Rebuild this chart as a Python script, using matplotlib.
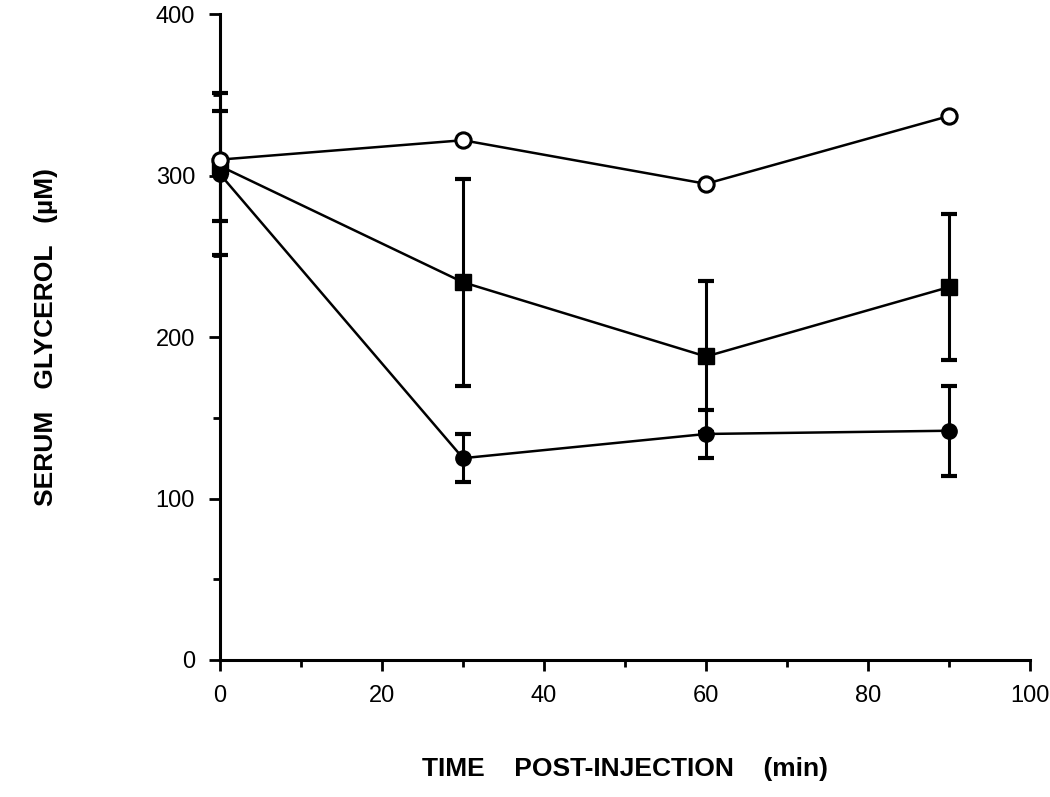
import matplotlib
matplotlib.use("Agg")
import matplotlib.pyplot as plt
import numpy as np

# minutes after injection
time_min = [0, 30, 60, 90]

# open circles (no error bars visible)
open_vals = [310, 322, 295, 337]

# filled squares
square_vals = [306, 234, 188, 231]
square_err = [34, 64, 47, 45]

# filled circles
filled_vals = [301, 125, 140, 142]
filled_err = [50, 15, 15, 28]

xticks = [0, 20, 40, 60, 80, 100]
yticks = [0, 100, 200, 300, 400]

plt.rcParams['font.family'] = ['Liberation Sans', 'DejaVu Sans']

fig = plt.figure(figsize=(10.5, 7.97), dpi=100)
ax = fig.add_axes([0.2095, 0.172, 0.7715, 0.81])

for vals, err, mk, ms in [(filled_vals, filled_err, 'o', 11),
                          (square_vals, square_err, 's', 12)]:
    _, caps, bars = ax.errorbar(time_min, vals, yerr=err, color='black', marker=mk,
                                markersize=ms, mfc='black', mec='black', lw=1.8,
                                elinewidth=2.2, capsize=6, capthick=3, zorder=3,
                                clip_on=False)
    for c in caps:
        c.set_clip_on(False)
    for b in bars:
        b.set_clip_on(False)
ax.plot(time_min, open_vals, color='black', marker='o', markersize=11,
        mfc='white', mec='black', mew=2.2, lw=1.8, zorder=4, clip_on=False)

ax.set_xlim(0, 100)
ax.set_ylim(0, 400)
ax.set_xticks(xticks)
ax.set_yticks(yticks)
ax.set_xticks(np.arange(10, 100, 20), minor=True)
ax.set_yticks(np.arange(50, 400, 100), minor=True)
ax.tick_params(axis='both', which='major', direction='out', length=8, width=2,
               labelsize=17, pad=10)
ax.tick_params(axis='both', which='minor', direction='out', length=5, width=2)

for s in ['top', 'right']:
    ax.spines[s].set_visible(False)
for s in ['left', 'bottom']:
    ax.spines[s].set_linewidth(2.2)

ax.set_xlabel('TIME    POST-INJECTION    (min)', fontsize=19, fontweight='bold',
              labelpad=36)
ax.set_ylabel('SERUM   GLYCEROL   (\u00b5M)', fontsize=19, fontweight='bold',
              labelpad=70)

fig.savefig('out.png', dpi=100)
